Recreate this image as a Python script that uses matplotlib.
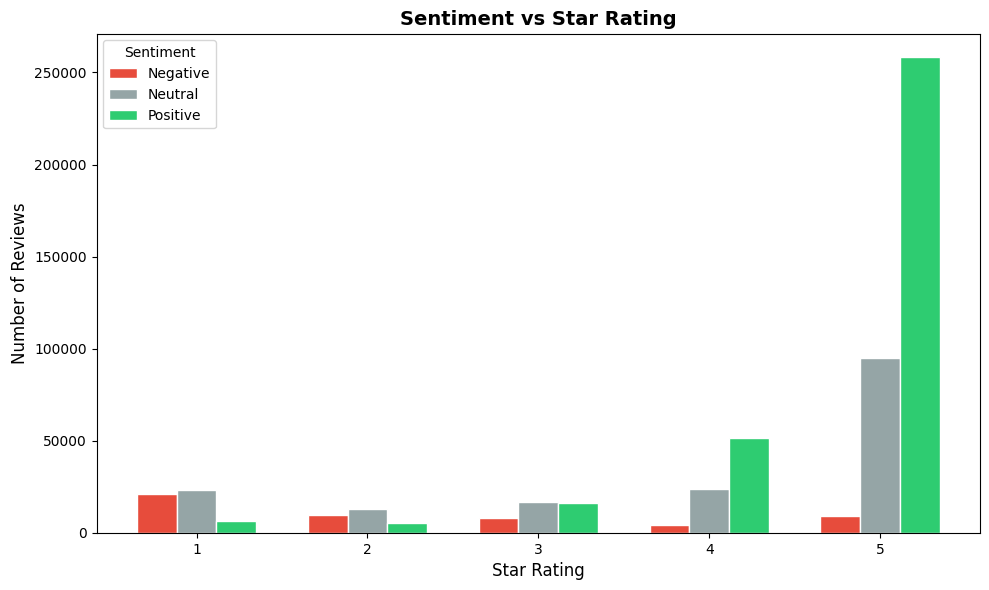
import matplotlib
matplotlib.use("Agg")
import matplotlib.pyplot as plt
import numpy as np

ratings = ["1", "2", "3", "4", "5"]
sentiments = ["Negative", "Neutral", "Positive"]
negative = [21200, 9950, 8300, 4500, 9400]
neutral = [23500, 13200, 17000, 24100, 94800]
positive = [6700, 5600, 16500, 51300, 258200]
colors = ["#e74c3c", "#95a5a6", "#2ecc71"]

series = [negative, neutral, positive]
fig, ax = plt.subplots(figsize=(9.89, 5.9), dpi=100)
x = np.arange(len(ratings))
w = 0.7 / 3
for i, (name, vals) in enumerate(zip(sentiments, series)):
    ax.bar(x + (i - 1) * w, vals, width=w, color=colors[i], edgecolor="white",
           linewidth=1, label=name)
ax.set_xticks(x)
ax.set_xticklabels(ratings)
ax.set_xlabel("Star Rating", fontsize=12)
ax.set_ylabel("Number of Reviews", fontsize=12)
ax.set_title("Sentiment vs Star Rating", fontsize=14, fontweight="bold")
ax.legend(title="Sentiment", loc="upper left")
fig.subplots_adjust(left=96.5 / 989, right=980.3 / 989, top=1 - 33.5 / 590, bottom=1 - 533 / 590)
fig.savefig("out.png", dpi=100)
